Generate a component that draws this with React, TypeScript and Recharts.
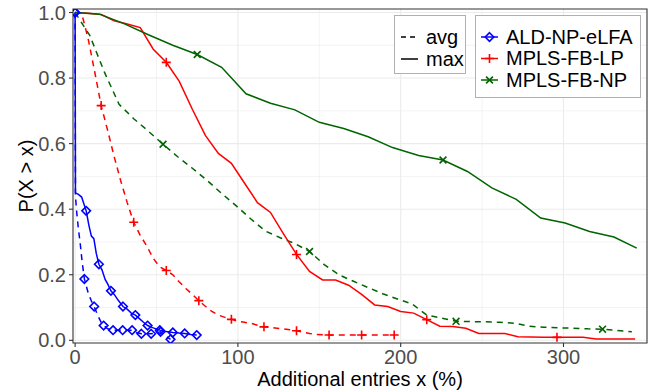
import React from "react";
import {
  ComposedChart,
  Line,
  Scatter,
  XAxis,
  YAxis,
  CartesianGrid,
  ReferenceArea,
  Label,
} from "recharts";

// axes
const xTicks = [0, 100, 200, 300];
const xMinor = [50, 150, 250];
const yTicks = [0, 0.2, 0.4, 0.6, 0.8, 1.0];
const yMinor = [0.1, 0.3, 0.5, 0.7, 0.9];
const xDomain: [number, number] = [-1.3, 351.3];
const yDomain: [number, number] = [-0.0082, 1.0107];

const methods = ["ALD-NP-eLFA", "MPLS-FB-LP", "MPLS-FB-NP"];
const stats = ["avg", "max"];

// ALD-NP-eLFA
const aldAvg: [number, number][] = [
  [0, 1.0], [0.2, 0.44], [1, 0.39], [2, 0.34], [3.1, 0.297], [4.3, 0.24],
  [5.7, 0.187], [8, 0.145], [10, 0.12], [11.7, 0.103], [14, 0.075], [16, 0.055],
  [17.5, 0.045], [20, 0.035], [23.3, 0.031], [29.2, 0.031], [35, 0.031],
  [37.5, 0.024], [40.7, 0.02], [46.7, 0.02], [52.5, 0.026], [55, 0.015], [58.6, 0.003],
];
const aldAvgMarks: [number, number][] = [
  [0, 1.0], [5.7, 0.187], [11.7, 0.103], [17.5, 0.045], [23.3, 0.031], [29.2, 0.031],
  [35, 0.031], [40.7, 0.02], [46.7, 0.02], [52.5, 0.026], [58.6, 0.003],
];
const aldMax: [number, number][] = [
  [0, 1.0], [0.2, 0.45], [2, 0.445], [4, 0.437], [6.8, 0.395], [8.5, 0.35],
  [10, 0.318], [11.5, 0.31], [13, 0.265], [14.6, 0.232], [16.5, 0.215],
  [18.5, 0.185], [20, 0.172], [22, 0.151], [24, 0.14], [26.5, 0.122],
  [29.4, 0.103], [32, 0.095], [34.5, 0.083], [37, 0.077], [39.5, 0.066],
  [42, 0.055], [44.5, 0.045], [48, 0.038], [52, 0.031], [56, 0.027], [60, 0.024],
  [64, 0.022], [67.3, 0.021], [71, 0.018], [74.7, 0.016],
];
const aldMaxMarks: [number, number][] = [
  [0, 1.0], [6.8, 0.395], [14.6, 0.232], [22, 0.151], [29.4, 0.103], [37, 0.077],
  [44.5, 0.045], [52, 0.031], [60, 0.024], [67.3, 0.021], [74.7, 0.016],
];

// MPLS-FB-LP
const lpAvg: [number, number][] = [
  [0, 1.0], [4, 0.998], [8, 0.92], [12, 0.82], [16, 0.716], [20, 0.64], [24, 0.56],
  [28, 0.487], [32, 0.42], [36, 0.36], [40, 0.32], [44, 0.288], [48, 0.25],
  [52, 0.224], [56, 0.213], [60, 0.2], [64, 0.178], [68, 0.158], [72, 0.14],
  [76, 0.121], [80, 0.104], [84, 0.088], [88, 0.077], [92, 0.07], [96, 0.064],
  [100, 0.058], [104, 0.055], [108, 0.052], [112, 0.046], [116, 0.041],
  [120, 0.039], [124, 0.037], [128, 0.035], [132, 0.032], [136, 0.029],
  [140, 0.025], [144, 0.021], [148, 0.018], [152, 0.017], [156, 0.016],
  [160, 0.016], [164, 0.016], [168, 0.016], [172, 0.016], [176, 0.016],
  [180, 0.016], [184, 0.016], [188, 0.016], [192, 0.016], [196, 0.016],
];
const lpAvgMarks: [number, number][] = [
  [16, 0.716], [36, 0.36], [56, 0.213], [76, 0.121], [96, 0.064], [116, 0.041],
  [136, 0.029], [156, 0.016], [176, 0.016], [196, 0.016],
];
const lpMax: [number, number][] = [
  [0, 1.0], [8, 0.998], [16, 0.994], [24, 0.975], [32, 0.965], [40, 0.954],
  [48, 0.888], [56, 0.848], [64, 0.79], [72, 0.705], [80, 0.625], [88, 0.57],
  [96, 0.54], [104, 0.48], [112, 0.42], [120, 0.39], [128, 0.325], [136, 0.262],
  [144, 0.21], [152, 0.184], [160, 0.184], [168, 0.168], [176, 0.14], [184, 0.108],
  [192, 0.103], [200, 0.088], [208, 0.083], [216, 0.063], [224, 0.043],
  [232, 0.042], [240, 0.037], [248, 0.021], [256, 0.021], [264, 0.021],
  [272, 0.011], [280, 0.01], [288, 0.009], [296, 0.009], [304, 0.009],
  [312, 0.009], [320, 0.004], [328, 0.004], [336, 0.004], [344, 0.004],
];
const lpMaxMarks: [number, number][] = [
  [56, 0.848], [136, 0.262], [216, 0.063], [296, 0.009],
];

// MPLS-FB-NP
const npAvg: [number, number][] = [
  [0, 1.0], [9, 0.93], [18, 0.818], [27, 0.72], [36, 0.676], [45, 0.638],
  [54, 0.598], [63, 0.56], [72, 0.525], [81, 0.488], [90, 0.448], [99, 0.41],
  [108, 0.37], [117, 0.333], [126, 0.313], [135, 0.295], [144, 0.271],
  [153, 0.231], [162, 0.2], [171, 0.18], [180, 0.161], [189, 0.142],
  [198, 0.126], [207, 0.111], [216, 0.077], [225, 0.068], [234, 0.058],
  [243, 0.057], [252, 0.057], [261, 0.055], [270, 0.052], [279, 0.043],
  [288, 0.04], [297, 0.038], [306, 0.037], [315, 0.035], [324, 0.034],
  [333, 0.03], [342, 0.026],
];
const npAvgMarks: [number, number][] = [
  [54, 0.598], [144, 0.271], [234, 0.058], [324, 0.034],
];
const npMax: [number, number][] = [
  [0, 1.0], [15, 0.995], [30, 0.966], [45, 0.932], [60, 0.9], [75, 0.872],
  [90, 0.833], [105, 0.752], [120, 0.723], [135, 0.703], [150, 0.665],
  [165, 0.646], [180, 0.621], [195, 0.588], [211, 0.564], [226, 0.55],
  [241, 0.515], [256, 0.465], [271, 0.43], [286, 0.373], [301, 0.358],
  [316, 0.332], [331, 0.315], [345, 0.281],
];
const npMaxMarks: [number, number][] = [
  [75, 0.872], [226, 0.55],
];

const pts = (a: [number, number][]) => a.map(([x, y]) => ({ x, y }));

const BLUE = "#0000ff";
const RED = "#ff0000";
const GREEN = "#006400";
const FONT = "'Liberation Sans', Arial, sans-serif";

type MarkProps = { cx?: number; cy?: number; color: string };

const Diamond = ({ cx = 0, cy = 0, color }: MarkProps) => (
  <path
    d={`M${cx},${cy - 4.3}L${cx + 4.3},${cy}L${cx},${cy + 4.3}L${cx - 4.3},${cy}Z`}
    fill="none"
    stroke={color}
    strokeWidth={1.6}
  />
);
const Plus = ({ cx = 0, cy = 0, color }: MarkProps) => (
  <path
    d={`M${cx - 4.5},${cy}H${cx + 4.5}M${cx},${cy - 4.5}V${cy + 4.5}`}
    stroke={color}
    strokeWidth={1.6}
  />
);
const Cross = ({ cx = 0, cy = 0, color }: MarkProps) => (
  <path
    d={`M${cx - 3.4},${cy - 3.4}L${cx + 3.4},${cy + 3.4}M${cx - 3.4},${cy + 3.4}L${cx + 3.4},${cy - 3.4}`}
    stroke={color}
    strokeWidth={1.6}
  />
);

const series = [
  { name: methods[0], color: BLUE, Mark: Diamond, avg: aldAvg, max: aldMax, avgMarks: aldAvgMarks, maxMarks: aldMaxMarks },
  { name: methods[1], color: RED, Mark: Plus, avg: lpAvg, max: lpMax, avgMarks: lpAvgMarks, maxMarks: lpMaxMarks },
  { name: methods[2], color: GREEN, Mark: Cross, avg: npAvg, max: npMax, avgMarks: npAvgMarks, maxMarks: npMaxMarks },
];

const DASH = "6 5";

const YTitle = (props: any) => {
  const vb = props.viewBox || { x: 0, y: 9, height: 334 };
  const x = vb.x + 33;
  const y = vb.y + vb.height / 2;
  return (
    <text
      x={x}
      y={y}
      transform={`rotate(-90 ${x} ${y})`}
      textAnchor="middle"
      fontSize={20}
      fill="#000"
      fontFamily={FONT}
    >
      P(X &gt; x)
    </text>
  );
};

function LegendBoxes() {
  const rowsL = [37, 59];
  const rowsR = [37, 58.5, 80];
  return (
    <svg
      width={660}
      height={391}
      style={{ position: "absolute", left: 0, top: 0, pointerEvents: "none" }}
    >
      <rect x={394.5} y={15.5} width={71} height={58} fill="#fff" stroke="#b0b0b0" strokeWidth={1} />
      {stats.map((s, i) => (
        <g key={s}>
          <line
            x1={401}
            x2={418}
            y1={rowsL[i]}
            y2={rowsL[i]}
            stroke="#000"
            strokeWidth={1.5}
            strokeDasharray={s === "avg" ? "5 4" : undefined}
          />
          <text x={426} y={rowsL[i] + 6.8} fontSize={20} fontFamily={FONT} fill="#000">
            {s}
          </text>
        </g>
      ))}
      <rect x={475.5} y={15.5} width={165} height={82} fill="#fff" stroke="#b0b0b0" strokeWidth={1} />
      {series.map((s, i) => (
        <g key={s.name}>
          <line x1={481} x2={498} y1={rowsR[i]} y2={rowsR[i]} stroke={s.color} strokeWidth={1.5} />
          <s.Mark cx={489.5} cy={rowsR[i]} color={s.color} />
          <text x={506} y={rowsR[i] + 6.8} fontSize={20} fontFamily={FONT} fill="#000">
            {s.name}
          </text>
        </g>
      ))}
    </svg>
  );
}

export default function App(): JSX.Element {
  return (
    <div
      style={{
        position: "absolute",
        left: 0,
        top: 0,
        width: 660,
        height: 391,
        background: "#fff",
        fontFamily: FONT,
      }}
    >
      <ComposedChart
        width={660}
        height={391}
        margin={{ top: 9, right: 13, bottom: 0, left: 0 }}
      >
        <CartesianGrid
          horizontalValues={yMinor}
          verticalValues={xMinor}
          stroke="#ebebeb"
          strokeWidth={0.6}
        />
        <CartesianGrid
          horizontalValues={yTicks}
          verticalValues={xTicks}
          stroke="#ebebeb"
          strokeWidth={1.1}
        />
        <XAxis
          type="number"
          dataKey="x"
          domain={xDomain}
          ticks={xTicks}
          allowDataOverflow
          axisLine={false}
          tickLine={{ stroke: "#333333", strokeWidth: 1.1 }}
          tickSize={4}
          tickMargin={3}
          tick={{ fill: "#4d4d4d", fontSize: 20 }}
          height={48}
        >
          <Label
            value="Additional entries x (%)"
            position="insideBottom"
            offset={5}
            fill="#000"
            fontSize={20}
          />
        </XAxis>
        <YAxis
          type="number"
          dataKey="y"
          domain={yDomain}
          ticks={yTicks}
          allowDataOverflow
          tickFormatter={(v: number) => v.toFixed(1)}
          axisLine={false}
          tickLine={{ stroke: "#333333", strokeWidth: 1.1 }}
          tickSize={4}
          tickMargin={3}
          tick={{ fill: "#4d4d4d", fontSize: 20 }}
          width={73}
        >
          <Label content={<YTitle />} />
        </YAxis>
        {series.map((s) => (
          <Line
            key={s.name + "-avg"}
            data={pts(s.avg)}
            dataKey="y"
            type="linear"
            stroke={s.color}
            strokeWidth={1.5}
            strokeDasharray={DASH}
            dot={false}
            activeDot={false}
            isAnimationActive={false}
          />
        ))}
        {series.map((s) => (
          <Line
            key={s.name + "-max"}
            data={pts(s.max)}
            dataKey="y"
            type="linear"
            stroke={s.color}
            strokeWidth={1.5}
            dot={false}
            activeDot={false}
            isAnimationActive={false}
          />
        ))}
        {series.map((s) => (
          <Scatter
            key={s.name + "-marks"}
            data={pts([...s.avgMarks, ...s.maxMarks])}
            dataKey="y"
            isAnimationActive={false}
            shape={(p: any) => <s.Mark cx={p.cx} cy={p.cy} color={s.color} />}
          />
        ))}
        <ReferenceArea
          x1={xDomain[0]}
          x2={xDomain[1]}
          y1={yDomain[0]}
          y2={yDomain[1]}
          fill="none"
          stroke="#333333"
          strokeWidth={1.1}
          ifOverflow="visible"
        />
      </ComposedChart>
      <LegendBoxes />
    </div>
  );
}
